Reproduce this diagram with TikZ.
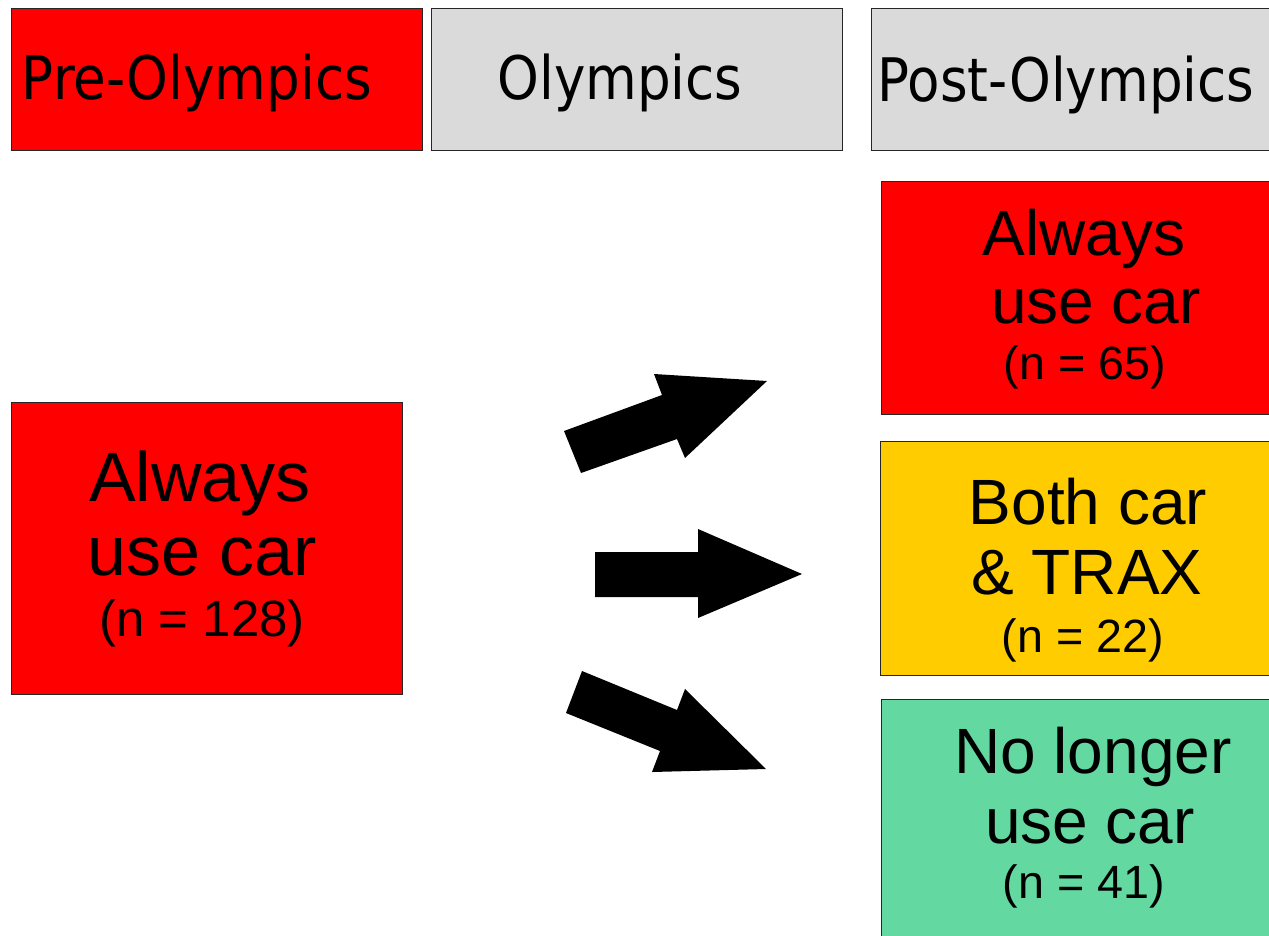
\documentclass[tikz,border=0pt]{standalone}
\usepackage{fontspec}
\setmainfont{Liberation Sans}
\newfontfamily\hdrfont[FakeStretch=0.885]{DejaVu Sans}
\usetikzlibrary{fit}

\definecolor{carred}{RGB}{255,0,0}
\definecolor{hdrgray}{RGB}{218,218,218}
\definecolor{bothyellow}{RGB}{255,204,0}
\definecolor{nocargreen}{RGB}{99,217,161}

\begin{document}
\begin{tikzpicture}[x=0.75pt,y=-0.75pt,
  box/.style={draw=black!85, line width=0.75pt, inner sep=0pt},
  hdrtxt/.style={font=\hdrfont\fontsize{45}{54}\selectfont, anchor=base, inner sep=0pt},
  bigtxt/.style={font=\fontsize{52.5}{60}\selectfont, anchor=base, inner sep=0pt},
  midtxt/.style={font=\fontsize{48}{56}\selectfont, anchor=base, inner sep=0pt},
  ntxtL/.style={font=\fontsize{38.25}{44}\selectfont, anchor=base, inner sep=0pt},
  ntxt/.style={font=\fontsize{35}{42}\selectfont, anchor=base, inner sep=0pt},
  blockarrow/.style={fill=black, draw=none}]

\useasboundingbox (0,0) rectangle (1269,935);

% column headers
\node[box, fill=carred,  fit={(11,8) (422,150)}]   (pre)  {};
\node[box, fill=hdrgray, fit={(431,8) (842,150)}]  (oly)  {};
\node[box, fill=hdrgray, fit={(871,8) (1300,150)}] (post) {};
\node[hdrtxt] (preT)  at (197,99)  {Pre-Olympics};
\node[hdrtxt] (olyT)  at (620,99)  {Olympics};
\node[hdrtxt] (postT) at (1066,101) {Post-Olympics};

% group before the Games
\node[box, fill=carred, fit={(11,402) (402,694)}] (before) {};
\node[bigtxt] (before1) at (200,501) {Always};
\node[bigtxt] (before2) at (202,575) {use car};
\node[ntxtL]  (before3) at (202,636) {(n = 128)};

% groups after the Games
\node[box, fill=carred, fit={(881,181) (1300,414)}] (always) {};
\node[midtxt] (always1) at (1084,255) {Always};
\node[midtxt] (always2) at (1096,323) {use car};
\node[ntxt]   (always3) at (1085,379) {(n = 65)};

\node[box, fill=bothyellow, fit={(880,441) (1300,675)}] (both) {};
\node[midtxt] (both1) at (1088,524) {Both car};
\node[midtxt] (both2) at (1087,594) {\& TRAX};
\node[ntxt]   (both3) at (1083,652) {(n = 22)};

\node[box, fill=nocargreen, fit={(881,699) (1300,960)}] (nocar) {};
\node[midtxt] (nocar1) at (1093,773) {No longer};
\node[midtxt] (nocar2) at (1090,843) {use car};
\node[ntxt]   (nocar3) at (1084,898) {(n = 41)};

% block arrows
\fill[blockarrow] (564,431) -- (581,473) -- (677,439) -- (685,458) -- (767,381)
  -- (654,374) -- (662,395) -- cycle;
\fill[blockarrow] (595,552) -- (698,552) -- (698,529) -- (802,574) -- (698,618)
  -- (698,597) -- (595,597) -- cycle;
\fill[blockarrow] (582,671) -- (677,710) -- (685,689) -- (766,769) -- (652,772)
  -- (660,751) -- (566,713) -- cycle;
\end{tikzpicture}
\end{document}
